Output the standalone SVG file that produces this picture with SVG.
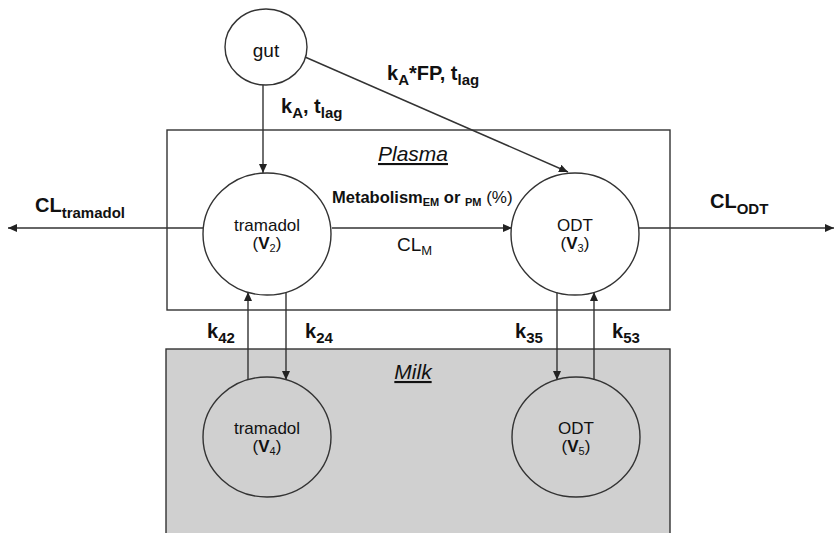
<svg xmlns="http://www.w3.org/2000/svg" width="835" height="533" viewBox="0 0 835 533">
<defs>
<marker id="ah" markerUnits="userSpaceOnUse" markerWidth="9" markerHeight="8" refX="9" refY="4" orient="auto">
<path d="M0,0 L9,4 L0,8 z" fill="#222"/>
</marker>
<style>
.ln{stroke:#333;stroke-width:1.4;fill:none;marker-end:url(#ah)}
.node{stroke:#333;stroke-width:1.4}
.t{font-family:"Liberation Sans",Arial,sans-serif;fill:#111}
.b{font-weight:bold}
.nt{font-size:17px;text-anchor:middle}
.lab{font-size:20px;font-weight:bold}
.sub{font-size:15px}
.comp{font-size:21px;font-style:italic;text-decoration:underline;text-anchor:middle}
</style>
</defs>
<rect width="835" height="533" fill="#fff"/>
<g id="milk">
<rect x="166" y="349" width="504" height="200" fill="#d0d0d0" stroke="#333" stroke-width="1.4"/>
<text class="t comp" x="413" y="379">Milk</text>
</g>
<g id="plasma">
<rect x="167" y="130" width="503" height="180" fill="#fff" stroke="#333" stroke-width="1.4"/>
<text class="t comp" x="413" y="161">Plasma</text>
</g>
<g id="connectors">
<line class="ln" x1="263" y1="85" x2="263" y2="173"/>
<line class="ln" x1="305" y1="57" x2="568" y2="172"/>
<line class="ln" x1="332" y1="228" x2="512" y2="228"/>
<line class="ln" x1="203" y1="228" x2="8" y2="228"/>
<line class="ln" x1="639" y1="228" x2="834" y2="228"/>
<line class="ln" x1="248" y1="380" x2="248" y2="292"/>
<line class="ln" x1="286" y1="292" x2="286" y2="380"/>
<line class="ln" x1="557" y1="292" x2="557" y2="380"/>
<line class="ln" x1="594" y1="380" x2="594" y2="292"/>
</g>
<g id="labels">
<text class="t lab" x="281" y="113">k<tspan class="sub" dy="5">A</tspan><tspan dy="-5">, t</tspan><tspan class="sub" dy="5">lag</tspan></text>
<text class="t lab" x="387" y="80">k<tspan class="sub" dy="5">A</tspan><tspan dy="-5">*FP, t</tspan><tspan class="sub" dy="5">lag</tspan></text>
<text class="t lab" x="35" y="212">CL<tspan class="sub" dy="6">tramadol</tspan></text>
<text class="t lab" x="710" y="208">CL<tspan class="sub" dy="6">ODT</tspan></text>
<text class="t" x="332" y="203" style="font-size:16.5px"><tspan class="b">Metabolism</tspan><tspan class="b" style="font-size:11px" dy="3">EM</tspan><tspan class="b" dy="-3"> or </tspan><tspan class="b" style="font-size:11px" dy="3">PM</tspan><tspan dy="-3" style="font-size:17px"> (%)</tspan></text>
<text class="t" x="397" y="251" style="font-size:19px">CL<tspan style="font-size:13px" dy="4">M</tspan></text>
<text class="t lab" x="207" y="338">k<tspan class="sub" dy="5">42</tspan></text>
<text class="t lab" x="305" y="338">k<tspan class="sub" dy="5">24</tspan></text>
<text class="t lab" x="515" y="338">k<tspan class="sub" dy="5">35</tspan></text>
<text class="t lab" x="612" y="338">k<tspan class="sub" dy="5">53</tspan></text>
</g>
<g id="gut">
<ellipse class="node" cx="266" cy="47" rx="41" ry="38" fill="#fff"/>
<text class="t nt" x="266" y="57" style="font-size:19px">gut</text>
</g>
<g id="tramadol_V2">
<ellipse class="node" cx="267" cy="234" rx="64" ry="61" fill="#fff"/>
<text class="t nt" x="267" y="231">tramadol</text>
<text class="t nt" x="267" y="249">(<tspan class="b">V</tspan><tspan style="font-size:11px" dy="3">2</tspan><tspan dy="-3">)</tspan></text>
</g>
<g id="ODT_V3">
<ellipse class="node" cx="575" cy="234" rx="64" ry="61" fill="#fff"/>
<text class="t nt" x="575" y="231">ODT</text>
<text class="t nt" x="575" y="249">(<tspan class="b">V</tspan><tspan style="font-size:11px" dy="3">3</tspan><tspan dy="-3">)</tspan></text>
</g>
<g id="tramadol_V4">
<ellipse class="node" cx="267" cy="437" rx="64" ry="60" fill="none"/>
<text class="t nt" x="267" y="434">tramadol</text>
<text class="t nt" x="267" y="452">(<tspan class="b">V</tspan><tspan style="font-size:11px" dy="3">4</tspan><tspan dy="-3">)</tspan></text>
</g>
<g id="ODT_V5">
<ellipse class="node" cx="576" cy="437" rx="64" ry="60" fill="none"/>
<text class="t nt" x="576" y="434">ODT</text>
<text class="t nt" x="576" y="452">(<tspan class="b">V</tspan><tspan style="font-size:11px" dy="3">5</tspan><tspan dy="-3">)</tspan></text>
</g>
</svg>
